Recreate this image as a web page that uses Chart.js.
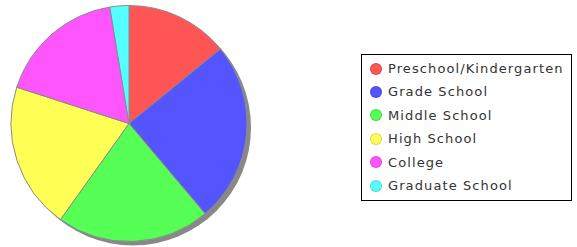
<!DOCTYPE html>
<html>
<head>
<meta charset="utf-8">
<script src="https://cdn.jsdelivr.net/npm/chart.js@4.4.0/dist/chart.umd.min.js"></script>
<style>
  html, body { margin: 0; padding: 0; background: #fff; }
  #wrap { position: relative; width: 577px; height: 247px; }
  #pie-box { position: absolute; left: 0; top: 0; width: 258px; height: 247px; }
  #legend {
    position: absolute; left: 361px; top: 54px; width: 209px; height: 145px;
    border: 1px solid #000; box-sizing: content-box;
    font-family: "DejaVu Sans", sans-serif; font-size: 13px; letter-spacing: 1.1px; color: #333;
  }
  #legend ul { list-style: none; margin: 0; padding: 2px 0 0 8px; }
  #legend li { height: 23.4px; line-height: 23.4px; white-space: nowrap; display: flex; align-items: center; }
  #legend .dot { width: 12px; height: 12px; border-radius: 50%; margin-right: 6px; box-sizing: border-box; border: 1px solid rgba(0,0,0,0.15); }
</style>
</head>
<body>
<div id="wrap">
  <div id="pie-box"><canvas id="chart"></canvas></div>
  <div id="legend"></div>
</div>
<script>
// данные
const labels = ["Preschool/Kindergarten", "Grade School", "Middle School", "High School", "College", "Graduate School"];
const values = [14.1, 24.7, 21.0, 20.1, 17.4, 2.6];
const colors = ["#FF5555", "#5555FF", "#55FF55", "#FFFF55", "#FF55FF", "#55FFFF"];

// тень под кругом
const shadowPlugin = {
    id: "pieShadow",
    beforeDatasetsDraw(chart) {
        const arc = chart.getDatasetMeta(0).data[0];
        if (!arc) return;
        const ctx = chart.ctx;
        ctx.save();
        ctx.fillStyle = "#888888";
        ctx.beginPath();
        ctx.arc(arc.x + 4, arc.y + 4, arc.outerRadius, 0, Math.PI * 2);
        ctx.fill();
        ctx.restore();
    }
};

// легенда в html
const htmlLegend = {
    id: "htmlLegend",
    afterUpdate(chart) {
        const box = document.getElementById("legend");
        box.innerHTML = "";
        const ul = document.createElement("ul");
        const items = chart.options.plugins.legend.labels.generateLabels(chart);
        for (let i = 0; i < items.length; i++) {
            const li = document.createElement("li");
            const dot = document.createElement("span");
            dot.className = "dot";
            dot.style.background = items[i].fillStyle;
            li.appendChild(dot);
            li.appendChild(document.createTextNode(items[i].text));
            ul.appendChild(li);
        }
        box.appendChild(ul);
    }
};

new Chart(document.getElementById("chart"), {
    type: "pie",
    data: {
        labels: labels,
        datasets: [{
            data: values,
            backgroundColor: colors,
            borderColor: "#8a8a8a",
            borderWidth: 1
        }]
    },
    options: {
        responsive: true,
        maintainAspectRatio: false,
        animation: false,
        layout: { padding: { top: 5, bottom: 5, left: 6, right: 6 } },
        plugins: {
            legend: { display: false },
            tooltip: { enabled: false }
        }
    },
    plugins: [shadowPlugin, htmlLegend]
});
</script>
</body>
</html>
